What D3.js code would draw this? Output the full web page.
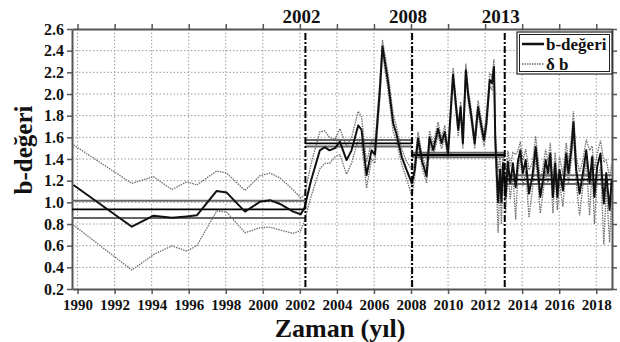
<!DOCTYPE html>
<html>
<head>
<meta charset="utf-8">
<script src="https://cdn.jsdelivr.net/npm/d3@7"></script>
<style>
  body { margin: 0; background: #fff; }
  svg { display: block; font-family: "Liberation Serif", "Times New Roman", serif; font-weight: bold; }
</style>
</head>
<body>
<div id="chart"></div>
<script>
// b-value time series
const years = [
  1989.78, 1992.93, 1994.1, 1995.09, 1995.9, 1996.44, 1997.51, 1998.05, 1999.04, 1999.85,
  2000.39, 2000.93, 2001.64, 2002.05, 2002.25, 2002.6, 2003.08, 2003.35, 2003.6, 2003.9,
  2004.16, 2004.52, 2004.79, 2005.15, 2005.33, 2005.6, 2005.87, 2006.05, 2006.32, 2006.46,
  2006.77, 2007.04, 2007.2, 2007.5, 2007.76, 2007.9, 2008.05, 2008.2, 2008.38, 2008.6,
  2008.84, 2009.0, 2009.2, 2009.46, 2009.65, 2009.82, 2010.0, 2010.27, 2010.55, 2010.68,
  2010.8, 2010.96, 2011.08, 2011.26, 2011.44, 2011.62, 2011.8, 2011.94, 2012.07, 2012.25,
  2012.37, 2012.48, 2012.55, 2012.7, 2012.8, 2012.88, 2012.97, 2013.11, 2013.23, 2013.36,
  2013.5, 2013.65, 2013.77, 2013.9, 2014.04, 2014.19, 2014.37, 2014.55, 2014.73, 2014.85,
  2014.98, 2015.12, 2015.27, 2015.39, 2015.52, 2015.66, 2015.78, 2015.9, 2016.02, 2016.2,
  2016.38, 2016.5, 2016.65, 2016.77, 2016.92, 2017.1, 2017.28, 2017.46, 2017.64, 2017.78,
  2017.9, 2018.05, 2018.23, 2018.41, 2018.54, 2018.72, 2018.83
];
const bValues = [
  1.16, 0.775, 0.877, 0.858, 0.87, 0.88, 1.105, 1.09, 0.914, 1.006,
  1.02, 0.985, 0.914, 0.89, 0.95, 1.2, 1.48, 1.51, 1.48, 1.5,
  1.56, 1.39, 1.48, 1.71, 1.67, 1.25, 1.48, 1.44, 2.04, 2.44,
  2.1, 1.73, 1.64, 1.42, 1.3, 1.24, 1.175, 1.3, 1.59, 1.38,
  1.24, 1.6, 1.48, 1.68, 1.545, 1.65, 1.45, 2.18, 1.67, 1.88,
  1.545, 2.22, 2.0, 1.79, 1.545, 1.88, 1.7, 1.575, 1.73, 2.13,
  2.1, 2.25, 1.575, 1.0, 1.3, 1.0, 1.36, 1.05, 1.375, 1.18,
  1.36, 1.14, 1.375, 1.48, 1.27, 1.39, 1.08, 1.24, 1.51, 1.3,
  1.05, 1.2, 1.39, 1.27, 1.45, 1.05, 1.36, 1.05, 1.3, 1.11,
  1.45, 1.27, 1.48, 1.74, 1.3, 1.08, 1.27, 1.48, 1.18, 1.42,
  1.05, 1.33, 1.45, 0.99, 1.27, 0.93, 1.2
];
const deltaB = [
  0.37, 0.4, 0.36, 0.26, 0.32, 0.28, 0.185, 0.18, 0.195, 0.24,
  0.25, 0.24, 0.2, 0.15, 0.12, 0.15, 0.17, 0.15, 0.12, 0.08,
  0.12, 0.13, 0.12, 0.13, 0.12, 0.12, 0.08, 0.08, 0.08, 0.06,
  0.08, 0.08, 0.07, 0.07, 0.08, 0.1, 0.12, 0.06, 0.06, 0.06,
  0.06, 0.06, 0.06, 0.06, 0.05, 0.06, 0.05, 0.06, 0.06, 0.05,
  0.05, 0.06, 0.06, 0.06, 0.05, 0.06, 0.06, 0.06, 0.06, 0.06,
  0.06, 0.07, 0.08, 0.28, 0.12, 0.2, 0.1, 0.15, 0.1, 0.15,
  0.1, 0.3, 0.1, 0.08, 0.12, 0.1, 0.22, 0.12, 0.1, 0.12,
  0.15, 0.12, 0.1, 0.1, 0.1, 0.15, 0.1, 0.12, 0.12, 0.15,
  0.1, 0.1, 0.1, 0.1, 0.12, 0.2, 0.12, 0.1, 0.3, 0.1,
  0.25, 0.12, 0.12, 0.38, 0.12, 0.3, 0.15
];

// period means and their errors
const segStart = [1989.7, 2002.3, 2008.06, 2013.06];
const segEnd = [2002.3, 2008.06, 2013.06, 2018.85];
const segMean = [0.935, 1.545, 1.437, 1.21];
const segErr = [0.08, 0.03, 0.02, 0.04];

const breakYears = [2002.3, 2008.06, 2013.06];
const breakLabels = ["2002", "2008", "2013"];

const xTicks = [1990, 1992, 1994, 1996, 1998, 2000, 2002, 2004, 2006, 2008, 2010, 2012, 2014, 2016, 2018];
const yTicks = [0.2, 0.4, 0.6, 0.8, 1.0, 1.2, 1.4, 1.6, 1.8, 2.0, 2.2, 2.4, 2.6];

const legendLabels = ["b-değeri", "δ b"];

const width = 620;
const height = 342;
const padding = { top: 29, bottom: 53, left: 72, right: 8 };
const chartWidth = width - padding.left - padding.right;
const chartHeight = height - padding.top - padding.bottom;

const data = years.map((y, i) => ({ year: y, b: bValues[i], d: deltaB[i] }));

const xScale = d3.scaleLinear([1989.7, 2018.85], [0, chartWidth]);
const yScale = d3.scaleLinear([0.2, 2.6], [chartHeight, 0]);

const svg = d3
  .select("#chart")
  .append("svg")
  .attr("width", width)
  .attr("height", height)
  .attr("viewBox", `0 0 ${width} ${height}`);

const chart = svg
  .append("g")
  .attr("transform", `translate(${padding.left}, ${padding.top})`);

// grid
chart
  .append("g")
  .selectAll("line")
  .data(xTicks)
  .join("line")
  .attr("x1", (d) => xScale(d))
  .attr("x2", (d) => xScale(d))
  .attr("y1", 0)
  .attr("y2", chartHeight)
  .attr("stroke", "#9a9a9a")
  .attr("stroke-width", 1)
  .attr("stroke-dasharray", "1.5,2");
chart
  .append("g")
  .selectAll("line")
  .data(yTicks.slice(1, -1))
  .join("line")
  .attr("x1", 0)
  .attr("x2", chartWidth)
  .attr("y1", (d) => yScale(d))
  .attr("y2", (d) => yScale(d))
  .attr("stroke", "#9a9a9a")
  .attr("stroke-width", 1)
  .attr("stroke-dasharray", "1.5,2");

// axes
const styleAxis = (size) => (g) => {
  g.select(".domain").attr("stroke", "#555").attr("stroke-width", 2);
  g.selectAll(".tick line").attr("stroke", "#555").attr("stroke-width", 1.5);
  g.selectAll("text")
    .attr("fill", "#111")
    .style("font-family", "'Liberation Serif', serif")
    .style("font-weight", "bold")
    .style("font-size", size);
};

chart
  .append("g")
  .attr("transform", `translate(0, ${chartHeight})`)
  .call(
    d3.axisBottom(xScale).tickValues(xTicks).tickFormat(d3.format("d")).tickSize(5).tickSizeOuter(0).tickPadding(5)
  )
  .call(styleAxis("15px"));

chart
  .append("g")
  .call(d3.axisTop(xScale).tickValues(xTicks).tickFormat("").tickSize(5).tickSizeOuter(0))
  .call(styleAxis("15px"));

chart
  .append("g")
  .call(
    d3.axisLeft(yScale).tickValues(yTicks).tickFormat(d3.format(".1f")).tickSize(5).tickSizeOuter(0).tickPadding(3)
  )
  .call(styleAxis("16px"));

chart
  .append("g")
  .attr("transform", `translate(${chartWidth}, 0)`)
  .call(d3.axisRight(yScale).tickValues(yTicks).tickFormat("").tickSize(5).tickSizeOuter(0))
  .call(styleAxis("16px"));

// δb envelope lines
const lineGen = (acc) =>
  d3
    .line()
    .x((d) => xScale(d.year))
    .y((d) => yScale(acc(d)));

chart
  .append("g")
  .selectAll("path")
  .data([(d) => d.b + d.d, (d) => d.b - d.d])
  .join("path")
  .attr("d", (acc) => lineGen(acc)(data))
  .attr("fill", "none")
  .attr("stroke", "#6f6f6f")
  .attr("stroke-width", 1.3)
  .attr("stroke-dasharray", "1.5,1");

// period mean lines
const segs = segStart.map((s, i) => ({ s, e: segEnd[i], m: segMean[i], err: segErr[i] }));
const meanG = chart.append("g");
meanG
  .selectAll("line.err")
  .data(segs.flatMap((d) => [{ ...d, v: d.m + d.err }, { ...d, v: d.m - d.err }]))
  .join("line")
  .attr("class", "err")
  .attr("x1", (d) => xScale(d.s))
  .attr("x2", (d) => xScale(d.e))
  .attr("y1", (d) => yScale(d.v))
  .attr("y2", (d) => yScale(d.v))
  .attr("stroke", "#666")
  .attr("stroke-width", 2);
meanG
  .selectAll("line.mean")
  .data(segs)
  .join("line")
  .attr("class", "mean")
  .attr("x1", (d) => xScale(d.s))
  .attr("x2", (d) => xScale(d.e))
  .attr("y1", (d) => yScale(d.m))
  .attr("y2", (d) => yScale(d.m))
  .attr("stroke", "#000")
  .attr("stroke-width", 1.8);

// b-value line
chart
  .append("path")
  .attr("d", lineGen((d) => d.b)(data))
  .attr("fill", "none")
  .attr("stroke", "#111")
  .attr("stroke-width", 2)
  .attr("stroke-linejoin", "round");

// change points
chart
  .append("g")
  .selectAll("line")
  .data(breakYears)
  .join("line")
  .attr("x1", (d) => xScale(d))
  .attr("x2", (d) => xScale(d))
  .attr("y1", 4)
  .attr("y2", chartHeight)
  .attr("stroke", "#000")
  .attr("stroke-width", 2)
  .attr("stroke-dasharray", "7,2,2,2");

chart
  .append("g")
  .selectAll("text")
  .data(breakYears)
  .join("text")
  .attr("x", (d) => xScale(d) - 4)
  .attr("y", -6)
  .attr("text-anchor", "middle")
  .style("font-size", "19px")
  .attr("fill", "#111")
  .text((d, i) => breakLabels[i]);

// legend
const legend = chart.append("g").attr("transform", `translate(${chartWidth - 95}, 3)`);
legend.append("rect").attr("width", 95).attr("height", 42).attr("fill", "#fff").attr("stroke", "#222").attr("stroke-width", 1.2);
legend.append("rect").attr("x", 2.5).attr("y", 2.5).attr("width", 90).attr("height", 37).attr("fill", "none").attr("stroke", "#222").attr("stroke-width", 1);
legendLabels.forEach((label, i) => {
  const y = 12 + i * 20;
  legend
    .append("line")
    .attr("x1", 5)
    .attr("x2", 27)
    .attr("y1", y)
    .attr("y2", y)
    .attr("stroke", i === 0 ? "#111" : "#6f6f6f")
    .attr("stroke-width", i === 0 ? 2.5 : 1.3)
    .attr("stroke-dasharray", i === 0 ? null : "1.5,1");
  legend
    .append("text")
    .attr("x", 29)
    .attr("y", y + 6)
    .style("font-size", "17px")
    .attr("fill", "#111")
    .text(label);
});

// axis titles
svg
  .append("text")
  .attr("x", 340)
  .attr("y", 337)
  .attr("text-anchor", "middle")
  .style("font-size", "26px")
  .attr("fill", "#111")
  .text("Zaman (yıl)");

svg
  .append("text")
  .attr("transform", "translate(32, 150) rotate(-90)")
  .attr("text-anchor", "middle")
  .style("font-size", "25px")
  .attr("fill", "#111")
  .text("b-değeri");
</script>
</body>
</html>
